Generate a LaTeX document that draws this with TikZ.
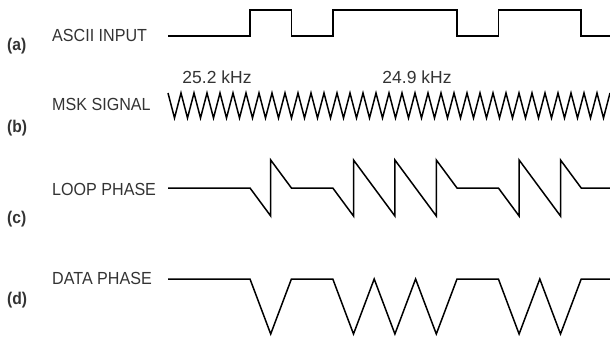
\documentclass[tikz,border=0pt]{standalone}
\usepackage{fontspec}
\setmainfont{Liberation Sans}
\newfontfamily\condfont[FakeStretch=0.92]{Liberation Sans}
\usepackage{xcolor}
\usepackage{tikz}
\definecolor{inkgray}{HTML}{333333}

\begin{document}
\begin{tikzpicture}[x=1pt,y=-1pt,
  wave/.style={line width=1.5pt, black},
  lbl/.style={anchor=west, inner sep=0pt, text=inkgray, font=\condfont\fontsize{17.5}{20}\selectfont},
  tag/.style={anchor=west, inner sep=0pt, text=inkgray, font=\condfont\bfseries\fontsize{17}{19}\selectfont},
  freq/.style={inner sep=0pt, text=inkgray, font=\fontsize{17.5}{20}\selectfont}]
\useasboundingbox (0,0) rectangle (610,337);
% labels
\node[lbl] (asciilbl) at (52,35) {ASCII INPUT};
\node[tag] (taga) at (7,46) {(a)};
\node[freq] (fspace) at (217,77) {25.2 kHz};
\node[freq] (fmark) at (417,77) {24.9 kHz};
\node[lbl] (msklbl) at (52,104) {MSK SIGNAL};
\node[tag] (tagb) at (7,128) {(b)};
\node[lbl] (looplbl) at (52,189) {LOOP PHASE};
\node[tag] (tagc) at (7,219) {(c)};
\node[lbl] (datalbl) at (52,278) {DATA PHASE};
\node[tag] (tagd) at (7,300) {(d)};
% ascii input
\draw[wave] (168,36) -- (250,36) -- (250,10) -- (291.4,10) -- (291.4,36) -- (332.8,36)
  -- (332.8,10) -- (457,10) -- (457,36) -- (498.4,36) -- (498.4,10) -- (581.2,10)
  -- (581.2,36) -- (610,36);
% msk signal
\draw[wave] (168,93) \foreach \k in {0,...,33} { -- ++(6.5,25) -- ++(6.5,-25) };
% loop phase
\draw[wave] (168,188) -- (250,188) -- (270.7,216) -- (270.7,160) -- (291.4,188) -- (332.8,188)
  -- (353.5,216) -- (353.5,160) -- (394.9,216) -- (394.9,160) -- (436.3,216) -- (436.3,160)
  -- (457,188) -- (498.4,188) -- (519.1,216) -- (519.1,160) -- (560.5,216) -- (560.5,160)
  -- (581.2,188) -- (610,188);
% data phase
\draw[wave] (168,279) -- (250,279) -- (270.7,334) -- (291.4,279) -- (332.8,279)
  -- (353.5,334) -- (374.2,279) -- (394.9,334) -- (415.6,279) -- (436.3,334) -- (457,279)
  -- (498.4,279) -- (519.1,334) -- (539.8,279) -- (560.5,334) -- (581.2,279) -- (610,279);
\end{tikzpicture}
\end{document}
